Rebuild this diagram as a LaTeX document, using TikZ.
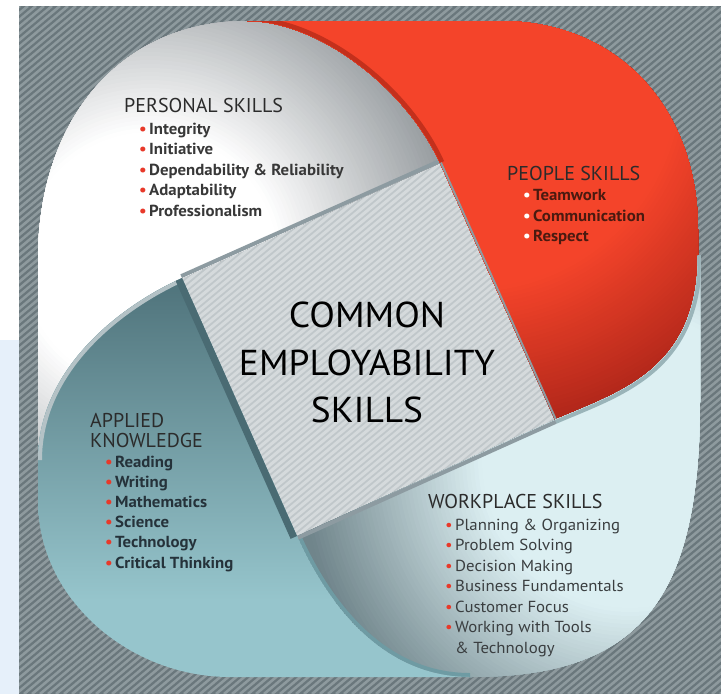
\documentclass[tikz,border=0pt]{standalone}
\usepackage{fontspec}
\setmainfont{PT Sans}
\newfontfamily\centerfont{PT Sans}[FakeStretch=1.04]
\newfontfamily\itemfont{PT Sans}[FakeStretch=1.05]
\definecolor{bgdark}{HTML}{6A777C}
\definecolor{bglight}{HTML}{8E9A9E}
\definecolor{panel}{HTML}{E6F0FA}
\definecolor{sqbase}{HTML}{C0C7CA}
\definecolor{sqstripe}{HTML}{D5DADC}
\definecolor{wgray}{HTML}{8A9094}
\definecolor{redmain}{HTML}{F4442A}
\definecolor{reddark}{HTML}{A82318}
\definecolor{redband}{HTML}{C3301C}
\definecolor{wplight}{HTML}{DCEFF2}
\definecolor{wpdark}{HTML}{70858B}
\definecolor{tealtop}{HTML}{4F737B}
\definecolor{tealbot}{HTML}{96C5CC}
\definecolor{bandB}{HTML}{9AB4B9}
\definecolor{bandC}{HTML}{6E9BA3}
\definecolor{bandD}{HTML}{B4C2C6}
\definecolor{bandL}{HTML}{4A6B73}
\definecolor{sqedge}{HTML}{8D9BA1}
\definecolor{bred}{HTML}{E8392A}
\definecolor{titlec}{HTML}{2B2B2B}
\definecolor{perc}{HTML}{383838}
\definecolor{peoc}{HTML}{4A1A10}
\definecolor{appc}{HTML}{25323A}
\definecolor{wpc}{HTML}{3A3E40}
\newcommand{\bul}[1]{\makebox[10pt][l]{\textcolor{#1}{\textbullet}}}
\tikzset{
  ttl/.style={anchor=base west, inner sep=0pt, text=titlec, font=\fontsize{20}{20}\selectfont},
  itm/.style={anchor=base west, inner sep=0pt, font=\itemfont\fontsize{16}{16}\selectfont\bfseries},
  itmreg/.style={anchor=base west, inner sep=0pt, font=\itemfont\fontsize{16}{16}\selectfont},
  ctr/.style={anchor=base, inner sep=0pt, text=black, font=\centerfont\fontsize{36}{36}\selectfont},
}
\def\pwhite{(182,278) -- (440,163) .. controls (407,90) and (320,21) .. (247,21) .. controls (120,21) and (38,120) .. (38,260) -- (38,460) .. controls (38,370) and (118,307) .. (182,278) -- cycle}
\def\pred{(440,163) -- (555,420) .. controls (620,392) and (698,370) .. (698,255) -- (698,230) .. controls (698,110) and (620,21) .. (500,21) -- (247,21) .. controls (320,21) and (407,90) .. (440,163) -- cycle}
\def\pwork{(555,420) -- (297,536) .. controls (325.5,600) and (380,677) .. (470,677) .. controls (640,677) and (700,600) .. (700,400) -- (700,255) -- (698,255) .. controls (698,370) and (620,392) .. (555,420) -- cycle}
\def\pteal{(297,536) -- (182,278) .. controls (118,307) and (38,370) .. (38,460) -- (38,500) .. controls (38,600) and (130,677) .. (230,677) -- (470,677) .. controls (380,677) and (325.5,600) .. (297,536) -- cycle}
\def\psquare{(182,278) -- (440,163) -- (555,420) -- (297,536) -- cycle}
\begin{document}
\begin{tikzpicture}[x=1pt,y=-1pt]
\useasboundingbox (0,0) rectangle (721,694);
\fill[white] (0,0) rectangle (721,694);
\fill[panel] (0,340) rectangle (19,694);
% striped background
\begin{scope}
  \clip (19,6) rectangle (721,694);
  \fill[bgdark] (19,6) rectangle (721,694);
  \foreach \k in {-824,-816,...,721} \draw[bglight, line width=2.6pt] (\k,694) -- (\k+820,6);
\end{scope}
% central square
\begin{scope}
  \clip \psquare;
  \fill[sqbase] \psquare;
  \foreach \k in {-500,-492,...,700} \draw[sqstripe, line width=3pt] (\k,600) -- (\k+600,100);
\end{scope}
% personal (white)
\begin{scope}
  \clip \pwhite;
  \fill[wgray] \pwhite;
  \foreach \rr in {340,336,...,128} {
    \pgfmathsetmacro\p{max(0,min(100,(\rr-130)/2))}
    \fill[wgray!\p!white] (150,260) circle (\rr pt);
  }
  \draw[sqedge, line width=8pt] (182,278) -- (440,163);
\end{scope}
% people (red)
\begin{scope}
  \clip \pred;
  \fill[reddark] \pred;
  \foreach \rr in {372,368,...,208} {
    \pgfmathsetmacro\p{max(0,min(100,(\rr-210)/1.6))}
    \fill[reddark!\p!redmain] (470,80) circle (\rr pt);
  }
  \draw[redband, line width=9pt] (440,163) .. controls (407,90) and (320,21) .. (247,21);
  \draw[sqedge, line width=4pt] (440,163) -- (555,420);
\end{scope}
% workplace
\begin{scope}
  \clip \pwork;
  \fill[wpdark] \pwork;
  \foreach \rr in {332,328,...,148} {
    \pgfmathsetmacro\p{max(0,min(100,(\rr-150)/1.8))}
    \fill[wpdark!\p!wplight] (630,460) circle (\rr pt);
  }
  \draw[bandB, line width=8pt] (555,420) .. controls (620,392) and (698,370) .. (698,255);
  \draw[bandC, line width=8pt] (297,536) .. controls (325.5,600) and (380,677) .. (470,677);
  \draw[sqedge, line width=8pt] (555,420) -- (297,536);
\end{scope}
% applied (teal)
\begin{scope}
  \clip \pteal;
  \fill[tealbot] \pteal;
  \shade[top color=tealtop, bottom color=tealbot] (0,280) rectangle (721,600);
  \draw[bandD, line width=8pt] (182,278) .. controls (118,307) and (38,370) .. (38,460);
  \draw[bandL, line width=14pt] (297,536) -- (182,278);
\end{scope}
% texts
\node[ttl] (pertitle) at (124,112) {PERSONAL SKILLS};
\foreach \t [count=\i] in {Integrity,Initiative,Dependability \& Reliability,Adaptability,Professionalism}
  \node[itm, text=perc] (per\i) at (139,{134+20.5*(\i-1)}) {\bul{bred}\t};
\node[ttl] (peotitle) at (507,180) {PEOPLE SKILLS};
\foreach \t [count=\i] in {Teamwork,Communication,Respect}
  \node[itm, text=peoc] (peo\i) at (523,{200.5+20.7*(\i-1)}) {\bul{white}\t};
\node[ttl] (apptitle1) at (90,427) {APPLIED};
\node[ttl] (apptitle2) at (90,447) {KNOWLEDGE};
\foreach \t [count=\i] in {Reading,Writing,Mathematics,Science,Technology,Critical Thinking}
  \node[itm, text=appc] (app\i) at (105,{467+20.2*(\i-1)}) {\bul{bred}\t};
\node[ttl] (wptitle) at (428,508) {WORKPLACE SKILLS};
\foreach \t [count=\i] in {Planning \& Organizing,Problem Solving,Decision Making,Business Fundamentals,Customer Focus,Working with Tools}
  \node[itmreg, text=wpc] (wp\i) at (445,{530+20.5*(\i-1)}) {\bul{bred}\t};
\node[itmreg, text=wpc] (wp7) at (455,653) {\& Technology};
\node[ctr] (c1) at (367,327) {COMMON};
\node[ctr] (c2) at (367,375) {EMPLOYABILITY};
\node[ctr] (c3) at (367,422) {SKILLS};
\end{tikzpicture}
\end{document}
